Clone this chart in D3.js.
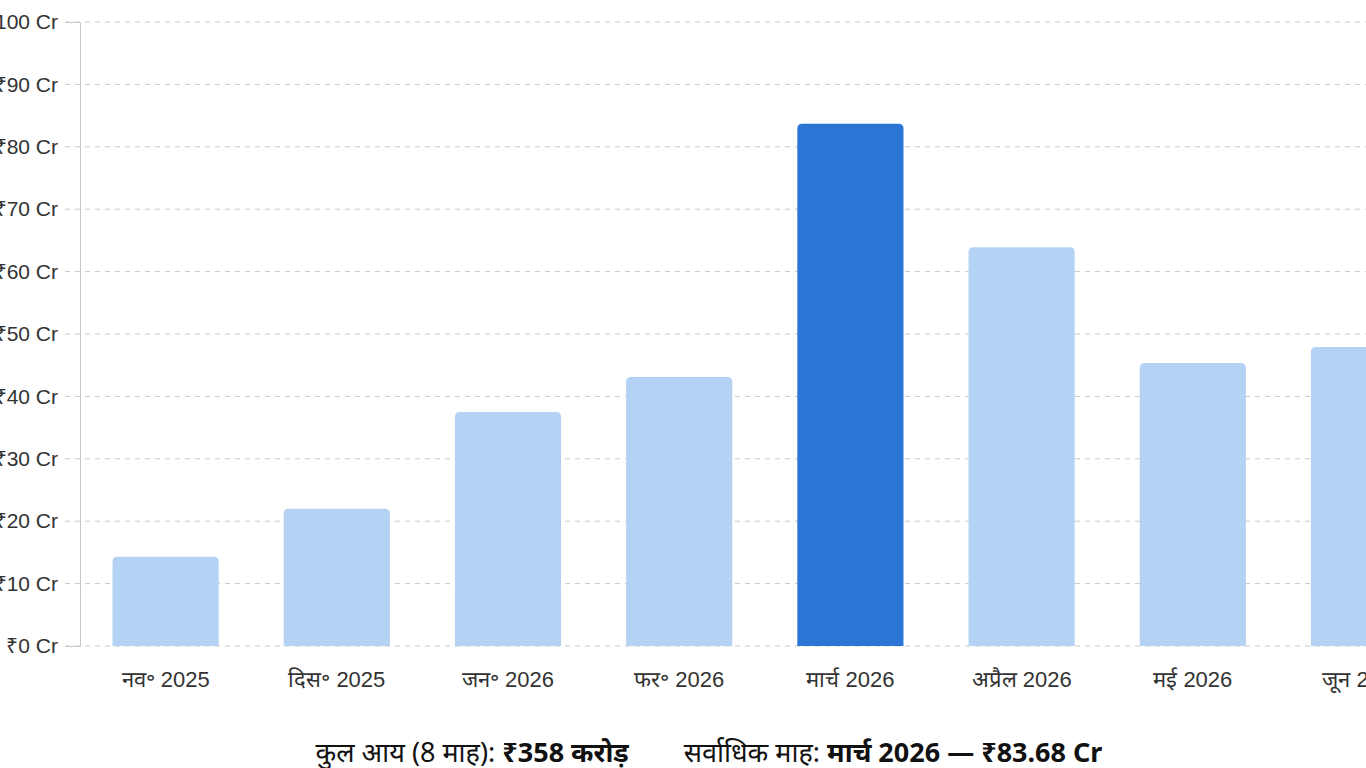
<!DOCTYPE html>
<html>
<head>
<meta charset="utf-8">
<script src="https://cdn.jsdelivr.net/npm/d3@7"></script>
<style>
  body { margin: 0; background: #fff; overflow: hidden; }
  svg { display: block; font-family: "Noto Sans", Roboto, sans-serif; }
</style>
</head>
<body>
<svg id="chart" width="1366" height="768"></svg>
<script>
// months and income in crore rupees
const months = ['नव॰ 2025', 'दिस॰ 2025', 'जन॰ 2026', 'फर॰ 2026', 'मार्च 2026', 'अप्रैल 2026', 'मई 2026', 'जून 2026']
const income = [14.3, 22.0, 37.5, 43.1, 83.68, 63.9, 45.35, 47.9]
const yTicks = [0, 10, 20, 30, 40, 50, 60, 70, 80, 90, 100]
const peakMonth = 'मार्च 2026'

const svg = d3.select('#chart')
const plotLeft = 80, plotTop = 22, plotBottom = 646
const step = 171.2

const x = d3.scaleBand()
  .domain(months)
  .range([plotLeft, plotLeft + step * months.length])
  .paddingInner(0.38)
  .paddingOuter(0.19)

const y = d3.scaleLinear().domain([0, 100]).range([plotBottom, plotTop])

// grid lines
svg.append('g')
  .selectAll('line')
  .data(yTicks)
  .enter()
  .append('line')
  .attr('x1', plotLeft - 15)
  .attr('x2', 1366)
  .attr('y1', d => y(d))
  .attr('y2', d => y(d))
  .attr('stroke', '#c8c8c8')
  .attr('stroke-dasharray', '5,5')

// y axis
const yAxis = svg.append('g')
  .attr('transform', `translate(${plotLeft},0)`)
  .call(d3.axisLeft(y).tickValues(yTicks).tickSize(15).tickPadding(7).tickFormat(d => '₹' + d + ' Cr'))
yAxis.select('.domain').attr('stroke', '#c8c8c8')
yAxis.selectAll('.tick line').attr('stroke', 'none')
yAxis.selectAll('text').attr('font-size', 21).attr('fill', '#333')

// bars with rounded top corners
function barPath (d, i) {
  const x0 = x(months[i]), w = x.bandwidth()
  const y0 = y(d), y1 = y(0), r = 5
  return `M${x0},${y1}V${y0 + r}Q${x0},${y0} ${x0 + r},${y0}H${x0 + w - r}Q${x0 + w},${y0} ${x0 + w},${y0 + r}V${y1}Z`
}

svg.append('g')
  .selectAll('path')
  .data(income)
  .enter()
  .append('path')
  .attr('d', barPath)
  .attr('fill', (d, i) => months[i] === peakMonth ? '#2a75d6' : '#b4d2f4')

// x axis labels
const xAxis = svg.append('g')
  .attr('transform', `translate(0,${plotBottom})`)
  .call(d3.axisBottom(x).tickSize(0).tickPadding(25))
xAxis.select('.domain').remove()
xAxis.selectAll('text').attr('font-size', 22).attr('fill', '#333')

// summary line
const total = Math.round(d3.sum(income))
const peakVal = income[months.indexOf(peakMonth)]
const foot = svg.append('text')
  .attr('x', 709)
  .attr('y', 762)
  .attr('text-anchor', 'middle')
  .attr('font-size', 27)
  .attr('fill', '#111')
foot.append('tspan').text('कुल आय (8 माह): ')
foot.append('tspan').attr('font-weight', 'bold').text('₹' + total + ' करोड़')
foot.append('tspan').attr('dx', 55).text('सर्वाधिक माह: ')
foot.append('tspan').attr('font-weight', 'bold').text(peakMonth + ' — ₹' + peakVal.toFixed(2) + ' Cr')
</script>
</body>
</html>
